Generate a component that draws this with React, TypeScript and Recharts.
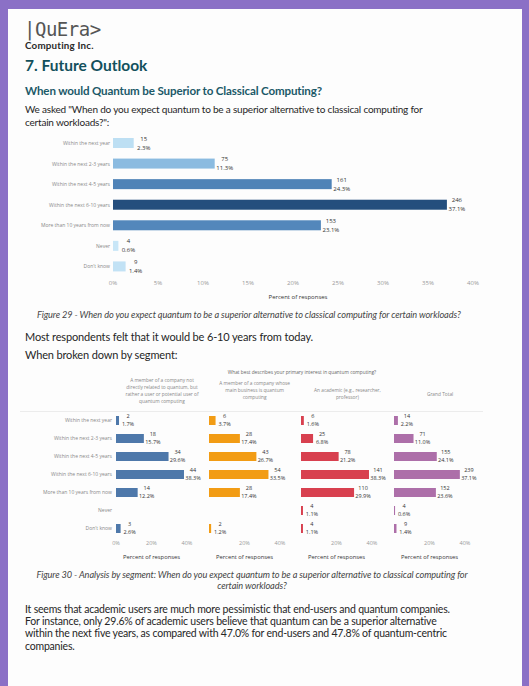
import React from "react"
import { BarChart, Bar, XAxis, YAxis } from "recharts"

// answer categories (same for every chart)
const CATEGORIES = [
  "Within the next year",
  "Within the next 2-3 years",
  "Within the next 4-5 years",
  "Within the next 6-10 years",
  "More than 10 years from now",
  "Never",
  "Don't know",
]

// Figure 29 - overall
const overallCounts = [15, 75, 161, 246, 153, 4, 9]
const overallPct = [2.3, 11.3, 24.3, 37.1, 23.1, 0.6, 1.4]
const overallColors = ["#bddff3", "#8bbbe0", "#4f83b7", "#244e7d", "#5387bb", "#c8e6f7", "#c2e2f5"]
const overallTicks = [0, 5, 10, 15, 20, 25, 30, 35, 40]

// Figure 30 - by segment
const segmentTitles = [
  ["A member of a company not", "directly related to quantum, but", "rather a user or potential user of", "quantum computing"],
  ["A member of a company whose", "main business is quantum", "computing"],
  ["An academic (e.g., researcher,", "professor)"],
  ["Grand Total"],
]
const segmentColors = ["#4e78aa", "#f29c14", "#d8404f", "#ad6fa9"]
const endUserCounts = [2, 18, 34, 44, 14, null, 3]
const endUserPct = [1.7, 15.7, 29.6, 38.3, 12.2, null, 2.6]
const quantumCoCounts = [6, 28, 43, 54, 28, null, 2]
const quantumCoPct = [3.7, 17.4, 26.7, 33.5, 17.4, null, 1.2]
const academicCounts = [6, 25, 78, 141, 110, 4, 4]
const academicPct = [1.6, 6.8, 21.2, 38.3, 29.9, 1.1, 1.1]
const totalCounts = [14, 71, 155, 239, 152, 4, 9]
const totalPct = [2.2, 11.0, 24.1, 37.1, 23.6, 0.6, 1.4]
const segmentTicks = [0, 20, 40]

const segmentCounts = [endUserCounts, quantumCoCounts, academicCounts, totalCounts]
const segmentPcts = [endUserPct, quantumCoPct, academicPct, totalPct]

const CHART_FONT = "'Open Sans', sans-serif"
const DOC_FONT = "Lato, 'Open Sans', sans-serif"

const overallData = CATEGORIES.map((cat, i) => ({
  cat, pct: overallPct[i], count: overallCounts[i], color: overallColors[i],
}))

const segmentData = segmentCounts.map((counts, s) =>
  CATEGORIES.map((cat, i) => ({
    cat, pct: segmentPcts[s][i], count: counts[i], color: segmentColors[s],
  }))
)

// bar + two-line label (count over percent), like tableau
const barWithLabel = (fs: number, dyUp: number, dyDown: number, offset: number) => (p: any) => {
  const { x, y, width, height, payload } = p
  if (payload.count == null) return <g />
  const cx = x + width + offset
  const cy = y + height / 2
  return (
    <g>
      <rect x={x} y={y} width={Math.max(width, 1)} height={height} fill={payload.color} />
      <text x={cx} y={cy + dyUp} textAnchor="middle" fontSize={fs} fill="#333" fontFamily={CHART_FONT}>{payload.count}</text>
      <text x={cx} y={cy + dyDown} textAnchor="middle" fontSize={fs} fill="#333" fontFamily={CHART_FONT}>{payload.pct.toFixed(1)}%</text>
    </g>
  )
}

// single-line row label (recharts would wrap it)
const RowTick = (p: any) => (
  <text x={p.x} y={p.y} dy="0.35em" textAnchor="end" fontSize={5} fill="#888" fontFamily={CHART_FONT}>{p.payload.value}</text>
)

const abs = (left: number, top: number, style: React.CSSProperties = {}): React.CSSProperties => ({
  position: "absolute", left, top, whiteSpace: "nowrap", ...style,
})

export default function App() {
  const body: React.CSSProperties = { fontFamily: DOC_FONT, color: "#262626", fontSize: 10.5, letterSpacing: -0.25 }
  const caption: React.CSSProperties = { fontFamily: DOC_FONT, fontStyle: "italic", fontSize: 9.2, color: "#444", letterSpacing: -0.1 }
  return (
    <div style={{ position: "absolute", left: 0, top: 0, width: 529, height: 686, background: "#8b70c6", overflow: "hidden" }}>
      <div style={{ position: "absolute", left: 8, top: 9, width: 514, height: 677, background: "#fdfdfd" }} />

      {/* header */}
      <div style={abs(24, 19, { fontFamily: "'DejaVu Sans Mono', monospace", fontSize: 19, color: "#555", lineHeight: "20px", letterSpacing: -0.5 })}>|QuEra&gt;</div>
      <div style={abs(25, 40, { fontFamily: DOC_FONT, fontWeight: 700, fontSize: 9.8, color: "#2a2a2a", lineHeight: "11px", letterSpacing: 0.2 })}>Computing Inc.</div>
      <div style={abs(25, 56, { fontFamily: DOC_FONT, fontWeight: 700, fontSize: 15.5, color: "#12505c", lineHeight: "18px" })}>7. Future Outlook</div>
      <div style={abs(25, 84, { fontFamily: DOC_FONT, fontWeight: 700, fontSize: 11.6, color: "#1b5968", lineHeight: "14px", letterSpacing: -0.15 })}>When would Quantum be Superior to Classical Computing?</div>
      <div style={abs(25, 103, { ...body, fontSize: 10, lineHeight: "12.5px", letterSpacing: -0.2 })}>
        We asked "When do you expect quantum to be a superior alternative to classical computing for<br />certain workloads?":
      </div>

      {/* Figure 29 */}
      <div style={abs(8, 128)}>
        <BarChart width={505} height={175} data={overallData} layout="vertical" margin={{ top: 5, right: 40, bottom: 4, left: 0 }} barSize={10}>
          <XAxis type="number" domain={[0, 40]} ticks={overallTicks} tickFormatter={(v) => `${v}%`} axisLine={false} tickLine={false} tickSize={0} tickMargin={4} height={22}
            tick={{ fontSize: 6, fill: "#999", fontFamily: CHART_FONT }}
            label={{ value: "Percent of responses", position: "insideBottom", offset: 0, dx: 5, fontSize: 6, fill: "#333", fontFamily: CHART_FONT }} />
          <YAxis type="category" dataKey="cat" width={105} axisLine={false} tickLine={false} tickSize={0} tickMargin={3} interval={0} tick={<RowTick />} />
          <Bar dataKey="pct" isAnimationActive={false} shape={barWithLabel(6, -2.5, 6.5, 10)} />
        </BarChart>
      </div>

      <div style={abs(37, 309, caption)}>
        Figure 29 - When do you expect quantum to be a superior alternative to classical computing for certain workloads?
      </div>
      <div style={abs(25, 330, { ...body, fontSize: 11, letterSpacing: -0.15 })}>Most respondents felt that it would be 6-10 years from today.</div>
      <div style={abs(25, 348, { ...body, fontSize: 11, letterSpacing: -0.15 })}>When broken down by segment:</div>

      {/* Figure 30 */}
      <div style={abs(302, 369, { transform: "translateX(-50%)", fontFamily: CHART_FONT, fontSize: 4.8, color: "#666" })}>
        What best describes your primary interest in quantum computing?
      </div>
      {segmentTitles.map((lines, s) => (
        <div key={s} style={abs(162 + 92.7 * s, s === 3 ? 391 : s === 2 ? 387 : s === 1 ? 380 : 377, { transform: "translateX(-50%)", textAlign: "center", fontFamily: CHART_FONT, fontSize: 4.8, lineHeight: "7px", color: "#888" })}>
          {lines.map((l, j) => <div key={j}>{l}</div>)}
        </div>
      ))}
      <div style={abs(20, 411, { width: 463, height: 1, background: "#ececec" })} />

      {segmentData.map((data, s) => (
        <div key={s} style={abs(s === 0 ? 11 : 116 + 92.7 * s, 406)}>
          <BarChart width={s === 0 ? 105 + 71 + 22 : 71 + 22} height={155} data={data} layout="vertical"
            margin={{ top: 5, right: 22, bottom: 0, left: 0 }} barSize={9}>
            <XAxis type="number" domain={[0, 40]} ticks={segmentTicks} tickFormatter={(v) => `${v}%`} axisLine={false} tickLine={false} tickSize={0} tickMargin={4} height={24}
              tick={{ fontSize: 5.5, fill: "#999", fontFamily: CHART_FONT }}
              label={{ value: "Percent of responses", position: "insideBottom", offset: 2, fontSize: 5.8, fill: "#333", fontFamily: CHART_FONT }} />
            <YAxis type="category" dataKey="cat" width={105} hide={s !== 0} axisLine={false} tickLine={false} tickSize={0} tickMargin={4} interval={0} tick={<RowTick />} />
            <Bar dataKey="pct" isAnimationActive={false} shape={barWithLabel(5.5, -2.5, 5.5, 9)} />
          </BarChart>
        </div>
      ))}

      <div style={abs(252, 569, { ...caption, transform: "translateX(-50%)", textAlign: "center", lineHeight: "11px" })}>
        Figure 30 - Analysis by segment: When do you expect quantum to be a superior alternative to classical computing for<br />certain workloads?
      </div>

      <div style={abs(25, 603, { ...body, lineHeight: "12.2px", letterSpacing: -0.2 })}>
        It seems that academic users are much more pessimistic that end-users and quantum companies.<br />
        For instance, only 29.6% of academic users believe that quantum can be a superior alternative<br />
        within the next five years, as compared with 47.0% for end-users and 47.8% of quantum-centric<br />
        companies.
      </div>
    </div>
  )
}
